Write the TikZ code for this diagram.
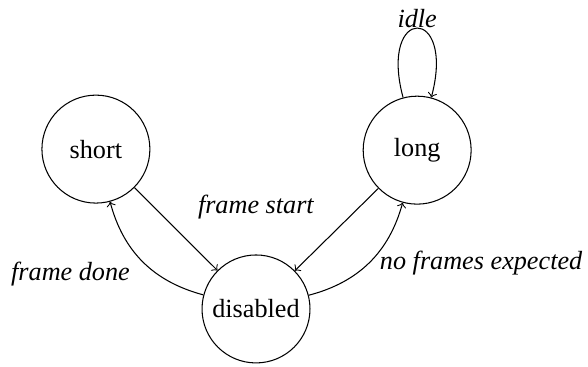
\documentclass[tikz,border=0pt]{standalone}
\usepackage{fontspec}
\setmainfont{Liberation Serif}
\usetikzlibrary{positioning}
\tikzstyle{state} = [circle, draw, minimum size=41.2pt, inner sep=0pt]
\tikzstyle{trans} = [->]
\tikzstyle{lbl} = [font=\itshape]

\begin{document}
\begin{tikzpicture}[x=1pt, y=1pt]
  \useasboundingbox (0,0) rectangle (224.4,-139.7);
  \node [state] (short) at (36.6,-56.9) {short};
  \node [state] (long) at (159.2,-57.3) {long};
  \node [state] (disabled) at (97.7,-117.9) {disabled};

  \draw [trans] (short) -- (disabled)
    node [lbl, midway, xshift=30.5pt, yshift=8.4pt] {frame start};
  \draw [trans] (long) -- (disabled);
  \draw [trans] (disabled) to [bend left]
    node [lbl, midway, anchor=east, xshift=-1.5pt, yshift=-4.5pt] {frame done} (short);
  \draw [trans] (disabled) to [bend right]
    node [lbl, midway, anchor=west, inner sep=0.5pt, xshift=3.4pt] {no frames expected} (long);
  \draw [trans] (long) to [loop above, looseness=8.7]
    node [lbl, above, inner sep=0pt] {idle} (long);

\end{tikzpicture}
\end{document}
